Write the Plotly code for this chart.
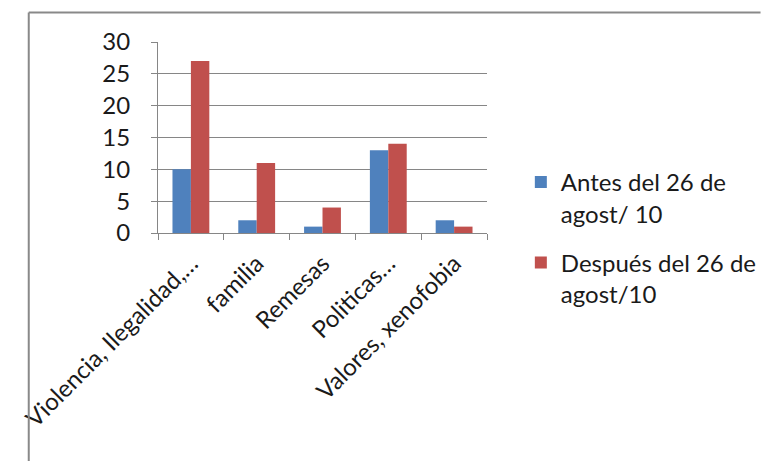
import plotly.graph_objects as go

categories = ["Violencia, Ilegalidad,…", "familia", "Remesas", "Politicas…", "Valores, xenofobia"]
antes = [10, 2, 1, 13, 2]
despues = [27, 11, 4, 14, 1]
series_names = ["Antes del 26 de<br>agost/ 10", "Después del 26 de<br>agost/10"]
y_ticks = [0, 5, 10, 15, 20, 25, 30]

# page has an 8px body margin; figure sized so it ends exactly at the window edge
OFF = 8
W, H = 774 - OFF, 461 - OFF
# plot area in page pixels
PX0, PX1, PY0, PY1 = 149, 499, 42, 233
L, T = PX0 - OFF, PY0 - OFF
R, B = W - (PX1 - OFF), H - (PY1 - OFF)
pw, ph = PX1 - PX0, PY1 - PY0

def px_x(x):  # page x -> paper
    return (x - PX0) / pw

def px_y(y):  # page y -> paper
    return 1 - (y - PY0) / ph

FONT = "Lato"
GRID = "#868686"

fig = go.Figure()
fig.add_trace(go.Bar(x=categories, y=antes, name=series_names[0], marker_color="#4F81BD",
                     marker_line_width=0, legendgroup="a"))
fig.add_trace(go.Bar(x=categories, y=despues, name=series_names[1], marker_color="#C0504D",
                     marker_line_width=0, legendgroup="b"))

fig.update_layout(
    width=W, height=H,
    margin=dict(l=L, r=R, t=T, b=B, pad=0),
    paper_bgcolor="white", plot_bgcolor="white",
    font=dict(family=FONT, size=24, color="#1a1a1a"),
    barmode="group", bargap=0.44, bargroupgap=0,
    showlegend=True,
    legend=dict(x=px_x(535), xanchor="left", y=px_y(160), yanchor="top",
                valign="top", tracegroupgap=15, font=dict(size=24, family=FONT),
                bgcolor="rgba(0,0,0,0)"),
    xaxis=dict(type="category", showline=True, linecolor=GRID, linewidth=1,
               ticks="outside", ticklen=6, tickcolor=GRID, tickson="boundaries",
               tickangle=-45, showgrid=False, ticklabelstandoff=6,
               tickfont=dict(size=24, family=FONT)),
    yaxis=dict(range=[0, 30], tickvals=y_ticks, showline=True, linecolor=GRID, linewidth=1,
               ticks="outside", ticklen=6, tickcolor=GRID, showgrid=True, gridcolor=GRID,
               gridwidth=1, zeroline=False, ticklabelstandoff=16,
               tickfont=dict(size=24, family=FONT)),
    shapes=[
        dict(type="line", xref="paper", yref="paper", x0=px_x(11.5), x1=px_x(11.5),
             y0=px_y(12.5), y1=px_y(480), line=dict(color="#898989", width=2)),
        dict(type="line", xref="paper", yref="paper", x0=px_x(11.5), x1=px_x(790),
             y0=px_y(12.5), y1=px_y(12.5), line=dict(color="#898989", width=2)),
    ],
)

fig.write_html("out.html")
